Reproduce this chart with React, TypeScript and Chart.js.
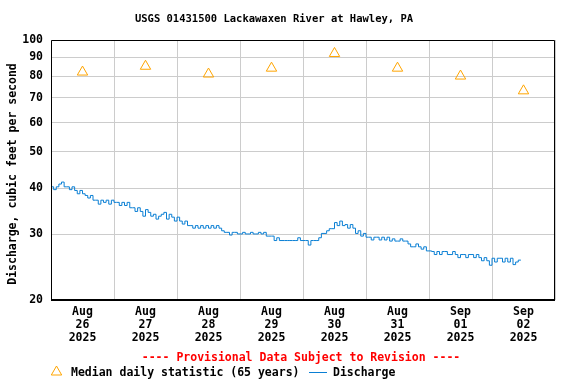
import React, { useEffect, useRef } from "react";
import { Chart, registerables } from "chart.js";

Chart.register(...registerables);

const TITLE = "USGS 01431500 Lackawaxen River at Hawley, PA";
const Y_TITLE = "Discharge, cubic feet per second";
const FOOTER = "---- Provisional Data Subject to Revision ----";
const LEGEND_MEDIAN = "Median daily statistic (65 years)";
const LEGEND_Q = "Discharge";

// Day labels (tick at noon of each day)
const dayMonths = ["Aug", "Aug", "Aug", "Aug", "Aug", "Aug", "Sep", "Sep"];
const dayNums = ["26", "27", "28", "29", "30", "31", "01", "02"];
const dayYears = ["2025", "2025", "2025", "2025", "2025", "2025", "2025", "2025"];

// Median daily statistic (cfs), one per day
const medianValues = [82, 85, 81, 84, 92, 84, 80, 73];

// Y ticks (log scale)
const yTicks = [20, 30, 40, 50, 60, 70, 80, 90, 100];

// Hourly discharge (cfs), hour 0 = Aug 26 00:00
const q_aug26 = [40.3, 39.6, 40.3, 41.0, 41.5, 40.3, 40.3, 39.6, 40.3, 39.4, 38.6, 39.4, 38.6, 38.2, 37.6, 38.2, 37.1, 37.1, 36.2, 37.1, 36.6, 37.1, 36.2, 37.1];
const q_aug27 = [36.6, 36.6, 35.9, 36.6, 35.9, 36.6, 35.4, 35.4, 34.6, 35.4, 34.6, 33.6, 35.0, 34.4, 33.6, 34.0, 33.0, 33.6, 34.0, 34.4, 33.0, 34.0, 33.4, 32.6];
const q_aug28 = [33.4, 32.6, 32.0, 32.6, 31.7, 31.7, 31.2, 31.7, 31.2, 31.7, 31.2, 31.7, 31.2, 31.7, 31.2, 31.7, 31.2, 30.7, 30.4, 30.4, 29.9, 30.4, 30.4, 30.1];
const q_aug29 = [30.1, 30.4, 30.1, 30.1, 30.4, 30.1, 30.1, 30.4, 30.1, 30.4, 29.7, 29.7, 29.7, 28.9, 29.4, 28.9, 28.9, 28.9, 28.9, 28.9, 28.9, 28.9, 29.4, 28.9];
const q_aug30 = [28.9, 28.9, 28.1, 28.9, 28.9, 28.9, 29.4, 30.2, 30.2, 30.7, 31.1, 31.1, 32.3, 31.7, 32.6, 31.7, 31.9, 31.2, 31.9, 31.2, 30.2, 30.7, 29.7, 30.2];
const q_aug31 = [29.5, 29.5, 29.0, 29.5, 29.5, 29.0, 29.5, 29.0, 29.5, 28.8, 29.2, 28.8, 28.8, 29.2, 28.8, 28.8, 28.3, 27.8, 27.8, 28.3, 27.8, 27.4, 27.8, 27.1];
const q_sep01 = [27.1, 27.0, 26.5, 27.0, 26.5, 27.0, 27.0, 26.5, 26.5, 27.0, 26.5, 26.0, 26.5, 26.5, 26.0, 26.5, 26.5, 26.0, 26.5, 26.0, 25.5, 26.0, 25.5, 24.8];
const q_sep02 = [25.9, 25.3, 25.9, 25.9, 25.3, 25.9, 25.3, 25.9, 24.9, 25.3, 25.6, 25.6];

const FONT = "'DejaVu Sans Mono', 'Liberation Mono', monospace";
const BLUE = "#0a7fd4";
const ORANGE = "#ffa500";
const GRID = "#cccccc";

export default function App() {
  const canvasRef = useRef<HTMLCanvasElement | null>(null);

  useEffect(() => {
    const canvas = canvasRef.current;
    if (!canvas) return;

    const allQ = [...q_aug26, ...q_aug27, ...q_aug28, ...q_aug29, ...q_aug30, ...q_aug31, ...q_sep01, ...q_sep02];
    const qPoints = allQ.map((v, i) => ({ x: i, y: v }));
    const medPoints = medianValues.map((v, i) => ({ x: 12 + 24 * i, y: v }));

    const drawTri = (ctx: CanvasRenderingContext2D, cx: number, cy: number, r: number) => {
      const h = r * 1.5;
      const w = r * Math.sqrt(3);
      ctx.beginPath();
      ctx.moveTo(cx - w / 2, cy + h / 3);
      ctx.lineTo(cx, cy - (2 * h) / 3);
      ctx.lineTo(cx + w / 2, cy + h / 3);
      ctx.closePath();
      ctx.stroke();
    };

    const decor = {
      id: "decor",
      beforeDraw(chart: any) {
        const ctx = chart.ctx;
        ctx.save();
        ctx.fillStyle = "#ffffff";
        ctx.fillRect(0, 0, chart.width, chart.height);
        ctx.restore();
      },
      afterDraw(chart: any) {
        const ctx = chart.ctx as CanvasRenderingContext2D;
        const a = chart.chartArea;
        ctx.save();
        // frame
        ctx.strokeStyle = "#000000";
        ctx.lineWidth = 1;
        ctx.beginPath();
        ctx.moveTo(a.left + 0.5, a.bottom);
        ctx.lineTo(a.left + 0.5, a.top + 0.5);
        ctx.lineTo(a.right - 0.5, a.top + 0.5);
        ctx.lineTo(a.right - 0.5, a.bottom);
        ctx.stroke();
        ctx.lineWidth = 2;
        ctx.beginPath();
        ctx.moveTo(a.left, a.bottom);
        ctx.lineTo(a.right, a.bottom);
        ctx.stroke();
        // title
        ctx.fillStyle = "#000000";
        ctx.textAlign = "center";
        ctx.textBaseline = "middle";
        ctx.font = `bold 10.5px ${FONT}`;
        ctx.fillText(TITLE, 274, 19);
        // y title
        ctx.save();
        ctx.translate(13, 174);
        ctx.rotate(-Math.PI / 2);
        ctx.font = `bold 11.5px ${FONT}`;
        ctx.fillText(Y_TITLE, 0, 0);
        ctx.restore();
        // footer
        ctx.fillStyle = "#ff0000";
        ctx.font = `bold 11.5px ${FONT}`;
        ctx.fillText(FOOTER, 301, 358);
        // legend
        ctx.textAlign = "left";
        ctx.fillStyle = "#000000";
        ctx.strokeStyle = ORANGE;
        ctx.lineWidth = 1;
        drawTri(ctx, 56.5, 372, 6);
        ctx.fillText(LEGEND_MEDIAN, 71, 373);
        ctx.strokeStyle = BLUE;
        ctx.beginPath();
        ctx.moveTo(309, 372.5);
        ctx.lineTo(327, 372.5);
        ctx.stroke();
        ctx.fillText(LEGEND_Q, 333, 373);
        ctx.restore();
      },
    };

    const chart = new Chart(canvas, {
      type: "scatter",
      data: {
        datasets: [
          {
            type: "line",
            label: LEGEND_Q,
            data: qPoints,
            borderColor: BLUE,
            borderWidth: 1,
            pointRadius: 0,
            stepped: true,
            fill: false,
          } as any,
          {
            label: LEGEND_MEDIAN,
            data: medPoints,
            pointStyle: "triangle",
            pointRadius: 6,
            borderColor: ORANGE,
            backgroundColor: "rgba(0,0,0,0)",
            borderWidth: 1,
          },
        ],
      },
      options: {
        animation: false,
        responsive: false,
        events: [],
        layout: { padding: { top: 40, right: 21, left: 0, bottom: 0 } },
        plugins: {
          legend: { display: false },
          title: { display: false },
          tooltip: { enabled: false },
        },
        scales: {
          x: {
            type: "linear",
            min: 0,
            max: 192,
            afterBuildTicks: (scale: any) => {
              const t = [];
              for (let v = 0; v <= 192; v += 12) t.push({ value: v });
              scale.ticks = t;
            },
            afterFit: (scale: any) => {
              scale.height = 84;
            },
            ticks: {
              autoSkip: false,
              maxRotation: 0,
              minRotation: 0,
              padding: 6,
              color: "#000000",
              font: { family: FONT, size: 11.5, weight: "bold", lineHeight: 1.13 },
              callback: (v: any) => {
                const n = Number(v);
                if (n % 24 === 12) {
                  const i = (n - 12) / 24;
                  return [dayMonths[i], dayNums[i], dayYears[i]];
                }
                return "";
              },
            },
            grid: {
              drawTicks: false,
              lineWidth: 1,
              color: (c: any) => (c.tick && c.tick.value % 24 === 0 ? GRID : "rgba(0,0,0,0)"),
            },
            border: { display: false },
          },
          y: {
            type: "logarithmic",
            min: 20,
            max: 100,
            afterBuildTicks: (scale: any) => {
              scale.ticks = yTicks.map((v) => ({ value: v }));
            },
            afterFit: (scale: any) => {
              scale.width = 51;
            },
            ticks: {
              padding: 8,
              color: "#000000",
              font: { family: FONT, size: 11.5, weight: "bold" },
              callback: (v: any) => String(v),
            },
            grid: { drawTicks: false, color: GRID, lineWidth: 1 },
            border: { display: false },
          },
        },
      },
      plugins: [decor],
    } as any);

    return () => chart.destroy();
  }, []);

  return (
    <div style={{ position: "absolute", left: 0, top: 0, width: 576, height: 384 }}>
      <canvas ref={canvasRef} width={576} height={384} />
    </div>
  );
}
